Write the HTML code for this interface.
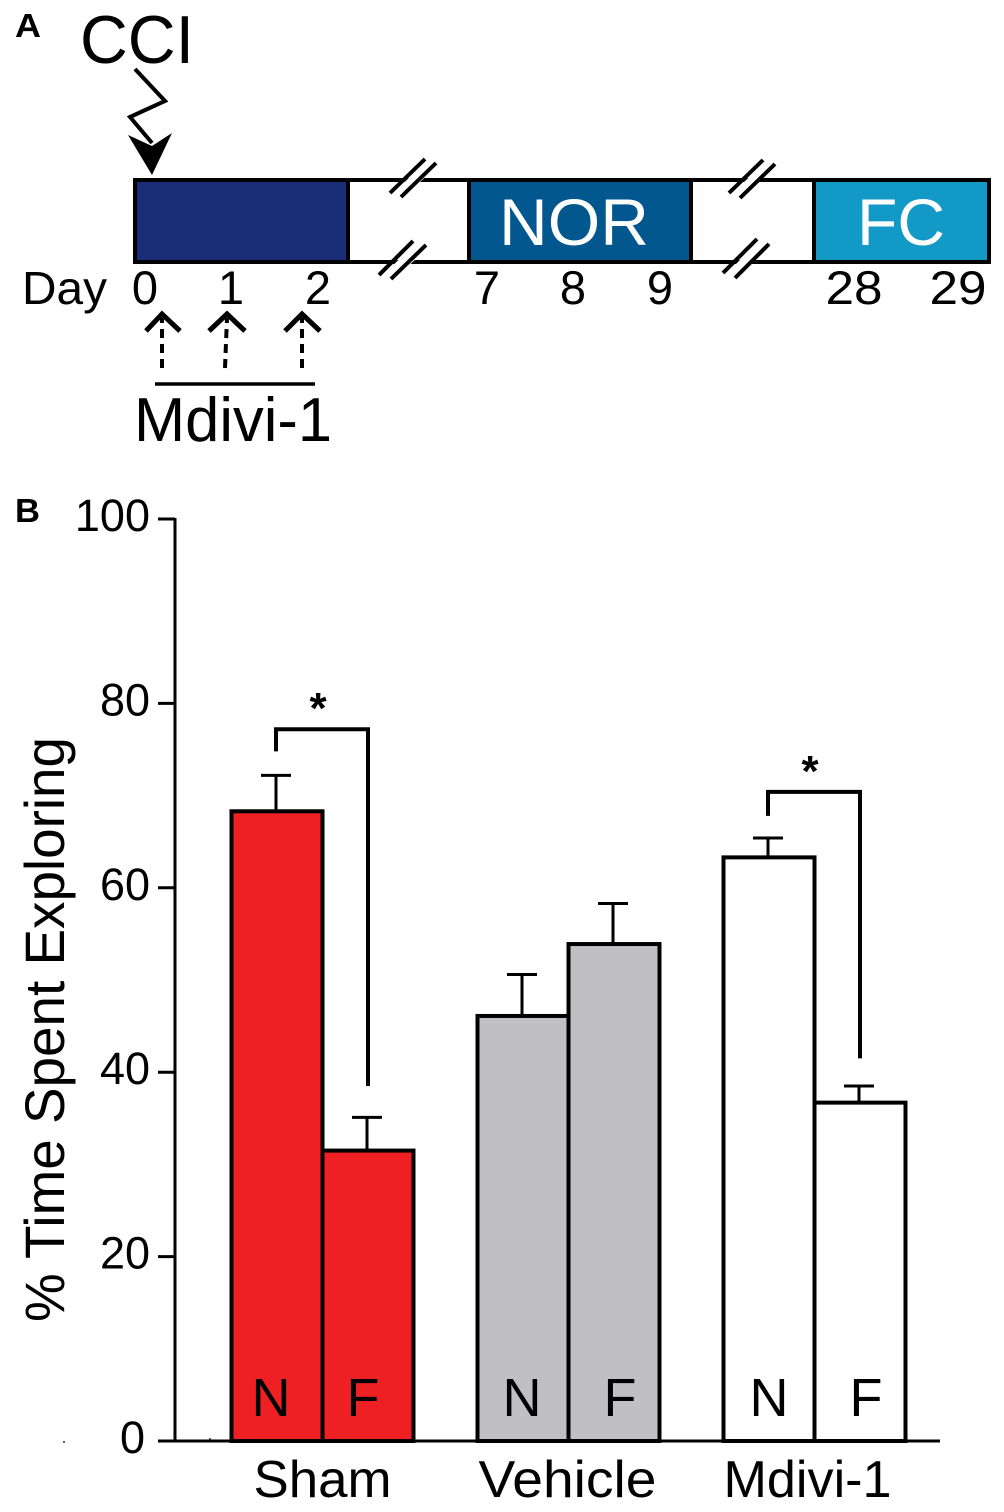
<!DOCTYPE html>
<html lang="en">
<head>
<meta charset="utf-8">
<title>CCI timeline and exploration chart</title>
<style>
html,body{margin:0;padding:0;background:#fff;width:1004px;height:1512px;overflow:hidden}
svg{display:block;font-family:"Liberation Sans",sans-serif}
</style>
</head>
<body>
<svg id="figure" xmlns="http://www.w3.org/2000/svg" width="1004" height="1512" viewBox="0 0 1004 1512">
  <rect x="0" y="0" width="1004" height="1512" fill="#fff"/>

  <g id="panel-a">
    <text x="15" y="37" font-size="33" font-weight="700" textLength="26" lengthAdjust="spacingAndGlyphs">A</text>
    <text x="80" y="63" font-size="68" textLength="114" lengthAdjust="spacingAndGlyphs">CCI</text>
    <polyline points="135,69 165,101 130,117 152,143" fill="none" stroke="#000" stroke-width="4"/>
    <polygon points="128,135 152,146 172,133 152,175" fill="#000"/>

    <rect x="135" y="180" width="213" height="82" fill="#1a2e78"/>
    <rect x="348" y="180" width="121" height="82" fill="#fff"/>
    <rect x="469" y="180" width="222" height="82" fill="#03578f"/>
    <rect x="691" y="180" width="123" height="82" fill="#fff"/>
    <rect x="814" y="180" width="175" height="82" fill="#1299c6"/>
    <rect x="135" y="180" width="854" height="82" fill="none" stroke="#000" stroke-width="4"/>
    <g stroke="#000" stroke-width="4">
      <line x1="348" y1="180" x2="348" y2="262"/>
      <line x1="469" y1="180" x2="469" y2="262"/>
      <line x1="691" y1="180" x2="691" y2="262"/>
      <line x1="814" y1="180" x2="814" y2="262"/>
    </g>

    <g>
      <polygon points="394,192 430,158 438,165 402,199" fill="#fff"/>
      <polygon points="384,274 418,241 428,248 393,280" fill="#fff"/>
      <g stroke="#000" stroke-width="4">
        <line x1="390" y1="193" x2="425" y2="159"/>
        <line x1="401" y1="197" x2="436" y2="163"/>
        <line x1="379" y1="275" x2="413" y2="241"/>
        <line x1="391" y1="279" x2="426" y2="245"/>
      </g>
    </g>
    <g>
      <polygon points="733,192 768,160 777,165 742,198" fill="#fff"/>
      <polygon points="727,273 761,239 771,245 737,278" fill="#fff"/>
      <g stroke="#000" stroke-width="4">
        <line x1="729" y1="193" x2="763" y2="160"/>
        <line x1="740" y1="198" x2="775" y2="164"/>
        <line x1="723" y1="273" x2="757" y2="239"/>
        <line x1="735" y1="278" x2="769" y2="244"/>
      </g>
    </g>

    <text x="499" y="245" font-size="66" fill="#fff" textLength="150" lengthAdjust="spacingAndGlyphs">NOR</text>
    <text x="857" y="245" font-size="66" fill="#fff" textLength="88" lengthAdjust="spacingAndGlyphs">FC</text>

    <text x="22" y="304" font-size="46" textLength="85" lengthAdjust="spacingAndGlyphs">Day</text>
    <g font-size="47" text-anchor="middle">
      <text x="145" y="304">0</text>
      <text x="231" y="304">1</text>
      <text x="318" y="304">2</text>
      <text x="487" y="304">7</text>
      <text x="573" y="304">8</text>
      <text x="660" y="304">9</text>
      <text x="854" y="304" textLength="57" lengthAdjust="spacingAndGlyphs">28</text>
      <text x="958" y="304" textLength="57" lengthAdjust="spacingAndGlyphs">29</text>
    </g>

    <g fill="none" stroke="#000">
      <line x1="162" y1="368" x2="162" y2="318" stroke-width="4" stroke-dasharray="9 6"/>
      <polyline points="146,331 162,314 180,331" stroke-width="5"/>
    </g>
    <g fill="none" stroke="#000">
      <line x1="225" y1="368" x2="227" y2="318" stroke-width="4" stroke-dasharray="9 6"/>
      <polyline points="209,331 227,314 245,331" stroke-width="5"/>
    </g>
    <g fill="none" stroke="#000">
      <line x1="302" y1="368" x2="302" y2="318" stroke-width="4" stroke-dasharray="9 6"/>
      <polyline points="285,331 302,314 320,331" stroke-width="5"/>
    </g>
    <line x1="155" y1="384" x2="315" y2="384" stroke="#000" stroke-width="3.5"/>
    <text x="134" y="441" font-size="62" textLength="198" lengthAdjust="spacingAndGlyphs">Mdivi-1</text>
  </g>

  <circle cx="64" cy="1442" r="1" fill="#333"/>
  <circle cx="210" cy="1439" r="1" fill="#333"/>

  <g id="panel-b"></g>
</svg>

<script>
const groupNames = ["Sham", "Vehicle", "Mdivi-1"];
const barLetters = ["N", "F"];
const barValues = [[68.3, 31.5], [46.1, 53.9], [63.3, 36.7]];
const errorTops = [[72.2, 35.1], [50.6, 58.3], [65.4, 38.5]];
const yTicks = [0, 20, 40, 60, 80, 100];
const groupColors = ["#ee2024", "#c0c0c2", "#ffffff"];
const significantGroups = [0, 2];
const bracketTops = [77.2, 70.4];
const bracketLeftEnds = [74.8, 67.8];
const bracketRightEnds = [38.5, 41.5];

const panel = document.getElementById("panel-b");
const NS = "http://www.w3.org/2000/svg";

function yScale(v) { return 1441 - v * 9.22; }
function barLeft(g, b) { return 231.5 + g * 246 + b * 91; }
const barWidth = 91;

function letterCenter(g, b) {
  const center = barLeft(g, b) + barWidth / 2;
  if (g === 0) return center + (b === 0 ? -6 : -5);
  if (g === 1) return center + (b === 0 ? -1 : 6);
  return center + (b === 0 ? 0 : 6);
}

function groupLabelCenter(g) {
  if (g === 2) return barLeft(g, 1) - 7;
  return barLeft(g, 1) + (g === 0 ? 0 : -1);
}

function make(tag, attrs, text) {
  const el = document.createElementNS(NS, tag);
  for (const k in attrs) el.setAttribute(k, attrs[k]);
  if (text !== undefined) el.textContent = text;
  panel.appendChild(el);
  return el;
}

const panelLabel = make("text", {x: 15, y: 522, "font-size": 33, "font-weight": 700, textLength: 25, lengthAdjust: "spacingAndGlyphs"}, "B");



const yTitle = make("text", {transform: "translate(64 1322) rotate(-90)", "font-size": 56, textLength: 585, lengthAdjust: "spacingAndGlyphs"}, "% Time Spent Exploring");



yTicks.forEach(function (t) {
  const tick = make("line", {x1: 158, x2: 175, y1: yScale(t), y2: yScale(t), stroke: "#000", "stroke-width": 3});
  
  
  const label = make("text", {x: t === 0 ? 145 : 150, y: yScale(t) + 12, "font-size": 45, "text-anchor": "end"}, String(t));
  
  
});

groupNames.forEach(function (name, g) {
  barValues[g].forEach(function (v, b) {
    const x = barLeft(g, b);
    const cx = x + barWidth / 2 - 1;
    const stem = make("line", {x1: cx, x2: cx, y1: yScale(errorTops[g][b]), y2: yScale(v), stroke: "#000", "stroke-width": 3});
    
    
    const cap = make("line", {x1: cx - 15, x2: cx + 15, y1: yScale(errorTops[g][b]), y2: yScale(errorTops[g][b]), stroke: "#000", "stroke-width": 3});
    
    
    const bar = make("rect", {x: x, y: yScale(v), width: barWidth, height: yScale(0) - yScale(v), fill: groupColors[g], stroke: "#000", "stroke-width": 4});
    
    
    const letter = make("text", {x: letterCenter(g, b), y: 1416, "font-size": 54, "text-anchor": "middle"}, barLetters[b]);
    
    
  });
  const groupLabel = make("text", {x: groupLabelCenter(g), y: 1497, "font-size": 52, "text-anchor": "middle", textLength: name.length === 4 ? 138 : (name.length === 7 && g === 1 ? 178 : 168), lengthAdjust: "spacingAndGlyphs"}, name);
  
  
});

significantGroups.forEach(function (g, i) {
  const left = barLeft(g, 0) + barWidth / 2 - 1;
  const right = barLeft(g, 1) + barWidth / 2;
  const top = yScale(bracketTops[i]);
  const bracket = make("polyline", {points: left + "," + yScale(bracketLeftEnds[i]) + " " + left + "," + top + " " + right + "," + top + " " + right + "," + yScale(bracketRightEnds[i]), fill: "none", stroke: "#000", "stroke-width": 4});
  
  
  const star = make("text", {x: (left + right) / 2 - 4, y: top - 6, "font-size": 44, "font-weight": 700, "text-anchor": "middle"}, "*");
  
  
});

const yAxis = make("line", {x1: 175, x2: 175, y1: yScale(100) - 1, y2: yScale(0), stroke: "#000", "stroke-width": 3});


const xAxis = make("line", {x1: 160, x2: 940, y1: yScale(0), y2: yScale(0), stroke: "#000", "stroke-width": 3});


</script>
</body>
</html>
